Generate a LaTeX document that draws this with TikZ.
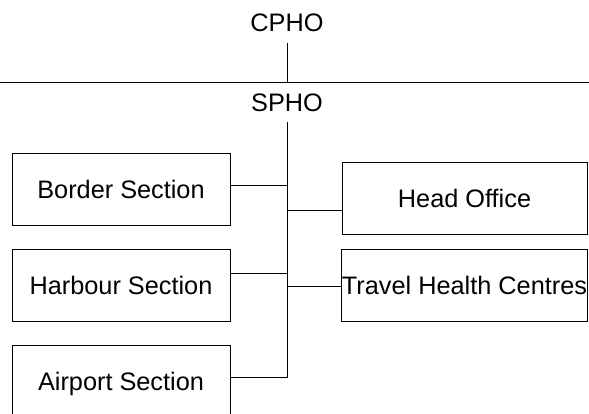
\documentclass[tikz,border=0pt]{standalone}
\usepackage{fontspec}
\setmainfont{Liberation Sans}
\usetikzlibrary{positioning}

\begin{document}
\begin{tikzpicture}[x = 1pt, y = 1pt, line width = 1pt, node distance = 23pt,
    every node/.style = { font = \fontsize{25.3}{29}\selectfont, inner sep = 0pt,
                          text height = 18pt, text depth = 0pt },
    unit/.style = { draw, minimum height = 72pt }]
  \useasboundingbox (0,0) rectangle (589,414);
  \clip (0,0) rectangle (589,414);

  \node (cpho) at (287,391) { CPHO };
  \node (spho) at (287,311.5) { SPHO };

  % sections on the left
  \node [unit, minimum width = 218pt] (border) at (121,224.5) { Border Section };
  \node [unit, minimum width = 218pt, below = of border] (harbour) { Harbour Section };
  \node [unit, minimum width = 218pt, below = of harbour] (airport) { Airport Section };

  % offices on the right
  \node [unit, minimum width = 245pt] (head) at (464.5,215) { Head Office };
  \node [unit, minimum width = 245pt, below = 14pt of head] (travel) { Travel Health Centres };

  \coordinate (cross) at (287,331);
  \coordinate (rule west) at (0,331);
  \coordinate (rule east) at (589,331);
  \coordinate (jb) at (287,228);
  \coordinate (jo) at (287,203);
  \coordinate (jh) at (287,140);
  \coordinate (jt) at (287,127);
  \coordinate (ja) at (287,36);

  \draw (rule west) -- (rule east);
  \draw ([yshift=-10.5pt]cpho.south) -- (cross);
  \draw ([yshift=-10.5pt]spho.south) -- (ja);

  \draw (border.east |- jb) -- (jb);
  \draw (harbour.east |- jh) -- (jh);
  \draw (airport.east |- ja) -- (ja);
  \draw (jo) -- (head.west |- jo);
  \draw (jt) -- (travel.west |- jt);
\end{tikzpicture}
\end{document}
